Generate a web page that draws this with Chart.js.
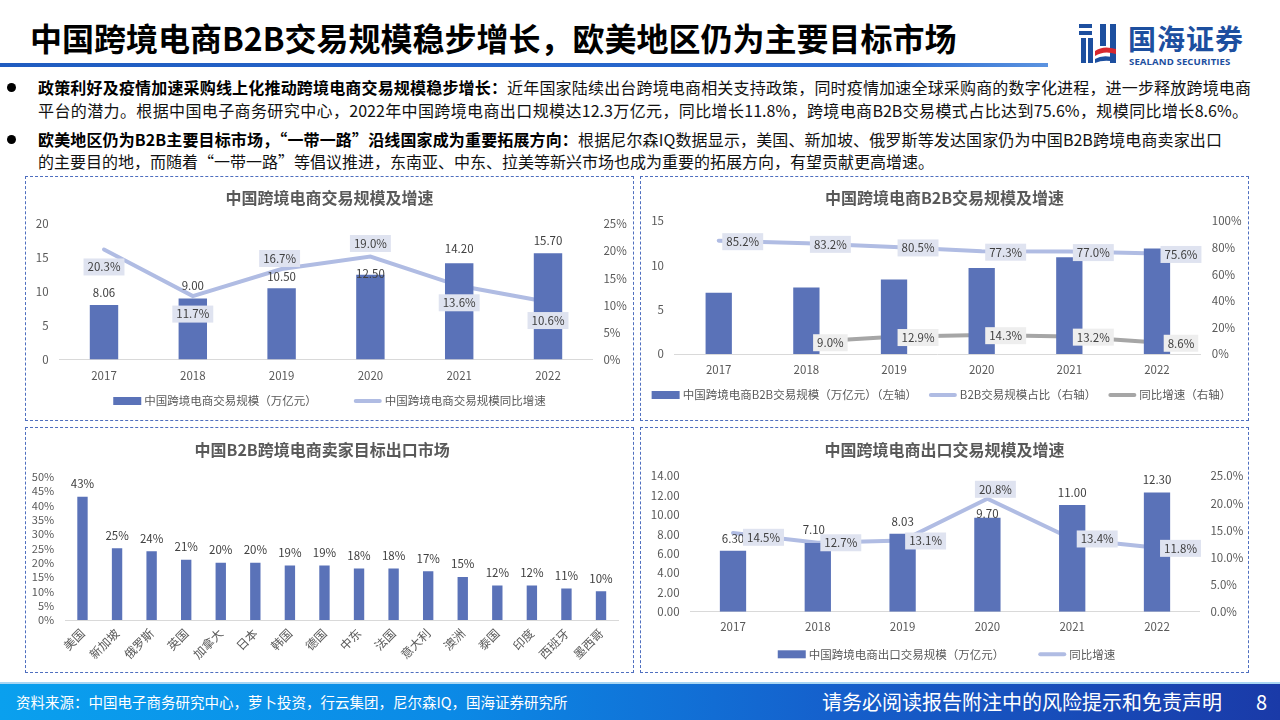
<!DOCTYPE html>
<html lang="zh-CN">
<head>
<meta charset="utf-8">
<title>中国跨境电商B2B交易规模稳步增长</title>
<script src="https://cdn.jsdelivr.net/npm/chart.js@4.4.1/dist/chart.umd.min.js"></script>
<style>
  html, body { margin: 0; padding: 0; }
  body {
    width: 1280px; height: 720px; position: relative; overflow: hidden; background: #fff;
    font-family: 'Noto Sans CJK SC', 'Noto Sans', sans-serif; color: #111;
  }
  .headline { position: absolute; left: 30px; top: 13px; font-size: 32px; font-weight: bold; line-height: 48px; color: #000; white-space: nowrap; }
  .rule { position: absolute; left: 0; top: 63px; width: 1048px; height: 4px; background: linear-gradient(90deg, #1f5cc0, #2a6ad0 85%, #5b93e0); }
  .logo-icon { position: absolute; left: 1077px; top: 22px; }
  .logo-cn { position: absolute; left: 1128px; top: 20px; font-size: 28px; font-weight: bold; color: #1d4f9f; line-height: 36px; letter-spacing: 1px; }
  .logo-en { position: absolute; left: 1129px; top: 56px; font-size: 9.6px; font-weight: bold; color: #1d4f9f; line-height: 12px; font-family: 'Open Sans', 'Noto Sans', sans-serif; letter-spacing: 0.1px; }
  .dot { position: absolute; left: 7px; width: 9px; height: 9px; border-radius: 50%; background: #000; }
  .ln { position: absolute; left: 38px; font-size: 16px; line-height: 22px; white-space: nowrap; }
  .ln.j { white-space: normal; text-align: justify; text-align-last: justify; }
  .ln b { font-weight: bold; color: #000; }
  .panel { position: absolute; box-sizing: border-box; border: 1px dashed #4f6fbf; }
  .panel canvas { position: absolute; left: 0; top: 0; display: block; }
  .footer-line { position: absolute; left: 0; top: 682px; width: 1280px; height: 2px; background: #a9d6f3; }
  .footer { position: absolute; left: 0; top: 684px; width: 1280px; height: 36px; background: linear-gradient(90deg, #0aa0ee 0%, #0b8ae6 35%, #1560cc 65%, #1a3aa8 100%); color: #fff; }
  .src { position: absolute; left: 16px; top: 9px; font-size: 14.5px; line-height: 18px; }
  .notice { position: absolute; left: 822px; top: 5px; font-size: 20px; line-height: 26px; }
  .page { position: absolute; left: 1256px; top: 5px; font-size: 20px; line-height: 26px; }
</style>
</head>
<body>
<div class="headline">中国跨境电商B2B交易规模稳步增长，欧美地区仍为主要目标市场</div>
<div class="rule"></div>
<svg class="logo-icon" width="44" height="44" viewBox="0 0 44 44">
  <rect x="2" y="2" width="13" height="4" fill="#1d4f9f"/>
  <rect x="2" y="9" width="13" height="4" fill="#1d4f9f"/>
  <rect x="4" y="16" width="5" height="25" fill="#1d4f9f"/>
  <rect x="11" y="16" width="5" height="25" fill="#1d4f9f"/>
  <rect x="23" y="2" width="6" height="22" fill="#1d4f9f"/>
  <rect x="33" y="2" width="6" height="39" fill="#1d4f9f"/>
  <path d="M18 29 q8 -6 21 -2 v5 q-12 -4 -21 2z" fill="#d7282f"/>
  <path d="M18 37 q8 -5 21 -1 v4 q-12 -3 -21 1z" fill="#1d4f9f"/>
</svg>
<div class="logo-cn">国海证券</div>
<div class="logo-en">SEALAND SECURITIES</div>

<div class="dot" style="top:83px"></div>
<div class="ln j" style="top:76px;width:1213px"><b>政策利好及疫情加速采购线上化推动跨境电商交易规模稳步增长：</b>近年国家陆续出台跨境电商相关支持政策，同时疫情加速全球采购商的数字化进程，进一步释放跨境电商</div>
<div class="ln j" style="top:99px;width:1210px">平台的潜力。根据中国电子商务研究中心，2022年中国跨境电商出口规模达12.3万亿元，同比增长11.8%，跨境电商B2B交易模式占比达到75.6%，规模同比增长8.6%。</div>
<div class="dot" style="top:135px"></div>
<div class="ln j" style="top:128px;width:1184px"><b>欧美地区仍为B2B主要目标市场，“一带一路”沿线国家成为重要拓展方向：</b>根据尼尔森IQ数据显示，美国、新加坡、俄罗斯等发达国家仍为中国B2B跨境电商卖家出口</div>
<div class="ln" style="top:150px">的主要目的地，而随着“一带一路”等倡议推进，东南亚、中东、拉美等新兴市场也成为重要的拓展方向，有望贡献更高增速。</div>

<div class="panel" style="left:25px;top:176px;width:609px;height:245px"><canvas id="c1" width="607" height="243"></canvas></div>
<div class="panel" style="left:640px;top:176px;width:609px;height:245px"><canvas id="c2" width="607" height="243"></canvas></div>
<div class="panel" style="left:25px;top:427px;width:609px;height:246px"><canvas id="c3" width="607" height="244"></canvas></div>
<div class="panel" style="left:640px;top:427px;width:609px;height:246px"><canvas id="c4" width="607" height="244"></canvas></div>

<div class="footer-line"></div>
<div class="footer">
  <div class="src">资料来源：中国电子商务研究中心，萝卜投资，行云集团，尼尔森IQ，国海证券研究所</div>
  <div class="notice">请务必阅读报告附注中的风险提示和免责声明</div>
  <div class="page">8</div>
</div>

<script>
// ---- data ----
const years = ['2017', '2018', '2019', '2020', '2021', '2022'];

// 中国跨境电商交易规模及增速
const totalScale = [8.06, 9.00, 10.50, 12.50, 14.20, 15.70];
const totalGrowth = [20.3, 11.7, 16.7, 19.0, 13.6, 10.6];

// 中国跨境电商B2B交易规模及增速
const b2bScale = [6.9, 7.5, 8.4, 9.7, 10.9, 11.9];
const b2bShare = [85.2, 83.2, 80.5, 77.3, 77.0, 75.6];
const b2bGrowth = [null, 9.0, 12.9, 14.3, 13.2, 8.6];

// 中国B2B跨境电商卖家目标出口市场
const markets = ['美国', '新加坡', '俄罗斯', '英国', '加拿大', '日本', '韩国', '德国', '中东', '法国', '意大利', '澳洲', '泰国', '印度', '西班牙', '墨西哥'];
const marketShare = [43, 25, 24, 21, 20, 20, 19, 19, 18, 18, 17, 15, 12, 12, 11, 10];

// 中国跨境电商出口交易规模及增速
const exportScale = [6.30, 7.10, 8.03, 9.70, 11.00, 12.30];
const exportGrowth = [14.5, 12.7, 13.1, 20.8, 13.4, 11.8];

// ---- styling ----
const FONT = "'Noto Sans CJK SC', 'Noto Sans', sans-serif";
const BAR = '#5a72b8';
const LAV = '#b0bce3';
const GRAY = '#a6a6a6';
const LAV_BG = '#dfe3f0';
const GRAY_BG = '#eeeeee';
const TEXT = '#595959';

Chart.defaults.font.family = FONT;
Chart.defaults.font.size = 11.5;
Chart.defaults.color = TEXT;
Chart.defaults.animation = false;

const fmt2 = (v) => v.toFixed(2);
const pct1 = (v) => v.toFixed(1) + '%';
const pct0 = (v) => v + '%';

// draws data labels (with optional box behind them) from each dataset's valueLabels config
const valueLabels = {
  id: 'valueLabels',
  afterDatasetsDraw(chart) {
    const { ctx } = chart;
    chart.data.datasets.forEach((ds, di) => {
      const cfg = ds.valueLabels;
      if (!cfg) return;
      const meta = chart.getDatasetMeta(di);
      ctx.save();
      ctx.font = '11.5px ' + FONT;
      ctx.textAlign = 'center';
      ctx.textBaseline = 'middle';
      meta.data.forEach((el, i) => {
        const v = ds.data[i];
        if (v == null) return;
        const text = cfg.format(v);
        const off = Array.isArray(cfg.offset[0]) ? cfg.offset[i] : cfg.offset;
        const cx = el.x + off[0];
        const cy = el.y + off[1];
        if (cfg.bg) {
          const w = ctx.measureText(text).width + 8;
          const h = 17;
          ctx.fillStyle = cfg.bg;
          ctx.fillRect(cx - w / 2, cy - h / 2, w, h);
        }
        ctx.fillStyle = '#404040';
        ctx.fillText(text, cx, cy);
      });
      ctx.restore();
    });
  },
};

// single-row legend centred in the canvas, Excel style (wide gaps between items)
const legendRow = {
  id: 'legendRow',
  afterDraw(chart, args, opts) {
    if (!opts || !opts.y) return;
    const { ctx } = chart;
    ctx.save();
    ctx.font = '11.5px ' + FONT;
    ctx.textBaseline = 'middle';
    ctx.textAlign = 'left';
    const items = chart.data.datasets.map((ds) => ({ ds, w: 28 + 3 + ctx.measureText(ds.label).width }));
    const total = items.reduce((s, it) => s + it.w, 0) + opts.gap * (items.length - 1);
    let x = (chart.width - total) / 2 + (opts.shift || 0);
    const y = opts.y;
    items.forEach(({ ds, w }) => {
      if (ds.type === 'line') {
        ctx.strokeStyle = ds.borderColor;
        ctx.lineWidth = 4;
        ctx.lineCap = 'round';
        ctx.beginPath();
        ctx.moveTo(x + 2, y);
        ctx.lineTo(x + 26, y);
        ctx.stroke();
      } else {
        ctx.fillStyle = ds.backgroundColor;
        ctx.fillRect(x, y - 4, 28, 8);
      }
      ctx.fillStyle = TEXT;
      ctx.fillText(ds.label, x + 31, y);
      x += w + opts.gap;
    });
    ctx.restore();
  },
};

// fixes title, chart area and tick positions inside a panel
function frame(g) {
  const lh = 16 * 1.2;
  const xHeight = g.legendY ? 30 : g.h - g.bottom;
  return {
    title: {
      display: true, text: g.title, color: TEXT, font: { size: 16, weight: 'bold' },
      padding: { top: g.titleY - lh / 2, bottom: g.top - g.titleY - lh / 2 },
    },
    xHeight,
    layout: { padding: { top: 0, left: 0, right: g.rightPad || 0, bottom: g.h - g.bottom - xHeight } },
  };
}

function xAxis(g, fr, ticks) {
  return {
    grid: { display: false, drawTicks: false },
    border: { color: '#d9d9d9' },
    ticks: Object.assign({ padding: g.xLabelY - g.bottom - 6.9, color: TEXT }, ticks || {}),
    afterFit: (s) => { s.height = fr.xHeight; },
  };
}

function yAxis(position, width, min, max, step, fmt, size) {
  return {
    position, min, max,
    grid: { display: false, drawTicks: false },
    border: { display: false },
    ticks: { stepSize: step, padding: 11, color: TEXT, callback: fmt, autoSkip: false, font: { size: size || 11.5 } },
    afterFit: (s) => { s.width = width; },
  };
}

function options(g, scales) {
  const fr = frame(g);
  scales.x = xAxis(g, fr, g.xTicks);
  return {
    responsive: false,
    layout: fr.layout,
    plugins: {
      title: fr.title,
      legend: { display: false },
      tooltip: { enabled: false },
      legendRow: { y: g.legendY, gap: g.legendGap, shift: g.legendShift },
    },
    scales,
  };
}

// ---- chart 1 ----
const g1 = { title: '中国跨境电商交易规模及增速', h: 243, top: 47, bottom: 182.5, titleY: 21.3, xLabelY: 199, legendY: 224, legendGap: 37 };
new Chart(document.getElementById('c1'), {
  data: {
    labels: years,
    datasets: [
      {
        type: 'bar', label: '中国跨境电商交易规模（万亿元）', data: totalScale, backgroundColor: BAR,
        barPercentage: 0.32, categoryPercentage: 1, yAxisID: 'y',
        valueLabels: { format: fmt2, offset: [[0, -12.5], [0, -13], [0, -12], [0, -1], [0, -15], [0, -13]] },
      },
      {
        type: 'line', label: '中国跨境电商交易规模同比增速', data: totalGrowth, borderColor: LAV, borderWidth: 4,
        pointRadius: 0, tension: 0, borderCapStyle: 'round', yAxisID: 'y1',
        valueLabels: { format: pct1, bg: LAV_BG, offset: [[0, 17.5], [0, 18], [-2, -10.5], [0, -13], [0, 17], [0, 18.5]] },
      },
    ],
  },
  options: options(g1, {
    y: yAxis('left', 33.6, 0, 20, 5),
    y1: yAxis('right', 40.6, 0, 25, 5, pct0),
  }),
  plugins: [valueLabels, legendRow],
});

// ---- chart 2 ----
const g2 = { title: '中国跨境电商B2B交易规模及增速', h: 243, top: 44, bottom: 177, titleY: 20.7, xLabelY: 193, legendY: 218, legendGap: 12, legendShift: -3 };
new Chart(document.getElementById('c2'), {
  data: {
    labels: years,
    datasets: [
      {
        type: 'bar', label: '中国跨境电商B2B交易规模（万亿元）（左轴）', data: b2bScale, backgroundColor: BAR,
        barPercentage: 0.3, categoryPercentage: 1, yAxisID: 'y',
      },
      {
        type: 'line', label: 'B2B交易规模占比（右轴）', data: b2bShare, borderColor: LAV, borderWidth: 4,
        pointRadius: 0, tension: 0, borderCapStyle: 'round', yAxisID: 'y1',
        valueLabels: { format: pct1, bg: LAV_BG, offset: [24, 1] },
      },
      {
        type: 'line', label: '同比增速（右轴）', data: b2bGrowth, borderColor: GRAY, borderWidth: 4,
        pointRadius: 0, tension: 0, borderCapStyle: 'round', yAxisID: 'y1',
        valueLabels: { format: pct1, bg: GRAY_BG, offset: [24, 0.7] },
      },
    ],
  },
  options: options(g2, {
    y: yAxis('left', 33.9, 0, 15, 5),
    y1: yAxis('right', 47.2, 0, 100, 20, pct0),
  }),
  plugins: [valueLabels, legendRow],
});

// ---- chart 3 ----
const g3 = {
  title: '中国B2B跨境电商卖家目标出口市场', h: 244, top: 48.7, bottom: 192, titleY: 22, rightPad: 14.7,
  xLabelY: 192 + 6 + 6.9, xTicks: { minRotation: 45, maxRotation: 45, autoSkip: false, font: { size: 12 } },
};
new Chart(document.getElementById('c3'), {
  data: {
    labels: markets,
    datasets: [
      {
        type: 'bar', label: '占比', data: marketShare, backgroundColor: BAR,
        barPercentage: 0.3, categoryPercentage: 1, yAxisID: 'y',
        valueLabels: { format: pct0, offset: [0, -13] },
      },
    ],
  },
  options: options(g3, {
    y: yAxis('left', 39.2, 0, 50, 5, pct0, 11),
  }),
  plugins: [valueLabels, legendRow],
});

// ---- chart 4 ----
const g4 = { title: '中国跨境电商出口交易规模及增速', h: 244, top: 48, bottom: 183.7, titleY: 22, xLabelY: 198.7, legendY: 226.3, legendGap: 34, legendShift: 2 };
new Chart(document.getElementById('c4'), {
  data: {
    labels: years,
    datasets: [
      {
        type: 'bar', label: '中国跨境电商出口交易规模（万亿元）', data: exportScale, backgroundColor: BAR,
        barPercentage: 0.31, categoryPercentage: 1, yAxisID: 'y',
        valueLabels: { format: fmt2, offset: [[0, -12.5], [-4, -13], [0, -12], [0, -4], [0, -12.5], [0, -13]] },
      },
      {
        type: 'line', label: '同比增速', data: exportGrowth, borderColor: LAV, borderWidth: 4,
        pointRadius: 0, tension: 0, borderCapStyle: 'round', yAxisID: 'y1',
        valueLabels: { format: pct1, bg: LAV_BG, offset: [[30.5, 4.3], [23, 0], [23, 0.4], [8, -9.5], [25, 0], [23.5, 0.7]] },
      },
    ],
  },
  options: options(g4, {
    y: yAxis('left', 49.6, 0, 14, 2, fmt2),
    y1: yAxis('right', 48.6, 0, 25, 5, pct1),
  }),
  plugins: [valueLabels, legendRow],
});
</script>
</body>
</html>
